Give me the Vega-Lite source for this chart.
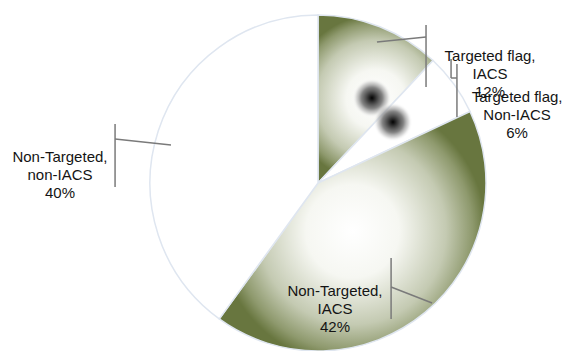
{
  "$schema": "https://vega.github.io/schema/vega-lite/v6.json",
  "width": 567,
  "height": 351,
  "padding": 0,
  "autosize": {"type": "none"},
  "background": "white",
  "config": {"view": {"stroke": null}},
  "datasets": {
    "slices": [
      {"category": "Targeted flag, IACS", "pct": 12, "olive": true, "o": 1},
      {"category": "Targeted flag, Non-IACS", "pct": 6, "olive": false, "o": 2},
      {"category": "Non-Targeted, IACS", "pct": 42, "olive": true, "o": 3},
      {"category": "Non-Targeted, non-IACS", "pct": 40, "olive": false, "o": 4}
    ],
    "leaders": [
      {"x": 0.643, "y": 0.940, "x2": 0.643, "y2": 0.571},
      {"x": 0.351, "y": 0.839, "x2": 0.643, "y2": 0.869},
      {"x": 0.827, "y": 0.708, "x2": 0.827, "y2": 0.393},
      {"x": 0.792, "y": 0.738, "x2": 0.792, "y2": 0.625},
      {"x": 0.792, "y": 0.625, "x2": 0.827, "y2": 0.625},
      {"x": -1.208, "y": 0.351, "x2": -1.208, "y2": -0.024},
      {"x": -1.208, "y": 0.262, "x2": -0.875, "y2": 0.226},
      {"x": 0.435, "y": -0.446, "x2": 0.435, "y2": -0.810},
      {"x": 0.435, "y": -0.619, "x2": 0.679, "y2": -0.714}
    ],
    "spots": [
      {"x": 0.321, "y": 0.506},
      {"x": 0.446, "y": 0.363}
    ],
    "labels": [
      {"label": "Targeted flag,\nIACS\n12%", "x": 1.024, "y": 0.756},
      {"label": "Targeted flag,\nNon-IACS\n6%", "x": 1.185, "y": 0.512},
      {"label": "Non-Targeted,\nnon-IACS\n40%", "x": -1.536, "y": 0.155},
      {"label": "Non-Targeted,\nIACS\n42%", "x": 0.101, "y": -0.643}
    ]
  },
  "layer": [
    {
      "data": {"name": "slices"},
      "mark": {"type": "arc", "outerRadius": 168, "stroke": "#dfe6f0", "strokeWidth": 1.5},
      "encoding": {
        "x": {"datum": 0, "type": "quantitative", "scale": {"domain": [-1.8929, 1.4821], "nice": false, "zero": false}, "axis": null},
        "y": {"datum": 0, "type": "quantitative", "scale": {"domain": [-1.0, 1.0893], "nice": false, "zero": false}, "axis": null},
        "theta": {"field": "pct", "type": "quantitative", "stack": true},
        "order": {"field": "o", "type": "quantitative"},
        "fill": {
          "condition": {
            "test": "datum.olive",
            "value": {
              "gradient": "radial",
              "x1": 0.5, "y1": 0.5, "r1": 0,
              "x2": 0.5, "y2": 0.5, "r2": 0.5,
              "stops": [
                {"offset": 0, "color": "#ffffff"},
                {"offset": 0.35, "color": "#f6f7f2"},
                {"offset": 0.7, "color": "#c4cab2"},
                {"offset": 0.9, "color": "#8e996d"},
                {"offset": 1, "color": "#68763f"}
              ]
            }
          },
          "value": "#ffffff"
        }
      }
    },
    {
      "data": {"name": "spots"},
      "mark": {
        "type": "point",
        "shape": "circle",
        "filled": true,
        "size": 1500,
        "opacity": 1,
        "fill": {
          "gradient": "radial",
          "x1": 0.5, "y1": 0.5, "r1": 0,
          "x2": 0.5, "y2": 0.5, "r2": 0.5,
          "stops": [
            {"offset": 0, "color": "#000000"},
            {"offset": 0.2, "color": "#333333"},
            {"offset": 0.55, "color": "rgba(110,110,110,0.85)"},
            {"offset": 0.8, "color": "rgba(180,180,180,0.5)"},
            {"offset": 1, "color": "rgba(255,255,255,0)"}
          ]
        }
      },
      "encoding": {
        "x": {"field": "x", "type": "quantitative"},
        "y": {"field": "y", "type": "quantitative"}
      }
    },
    {
      "data": {"name": "leaders"},
      "mark": {"type": "rule", "color": "#7a7a7a", "strokeWidth": 1.5},
      "encoding": {
        "x": {"field": "x", "type": "quantitative"},
        "y": {"field": "y", "type": "quantitative"},
        "x2": {"field": "x2"},
        "y2": {"field": "y2"}
      }
    },
    {
      "data": {"name": "labels"},
      "mark": {
        "type": "text",
        "font": "Liberation Sans",
        "fontSize": 15,
        "lineHeight": 18,
        "lineBreak": "\n",
        "align": "center",
        "baseline": "middle",
        "color": "#141414"
      },
      "encoding": {
        "x": {"field": "x", "type": "quantitative"},
        "y": {"field": "y", "type": "quantitative"},
        "text": {"field": "label"}
      }
    }
  ]
}
